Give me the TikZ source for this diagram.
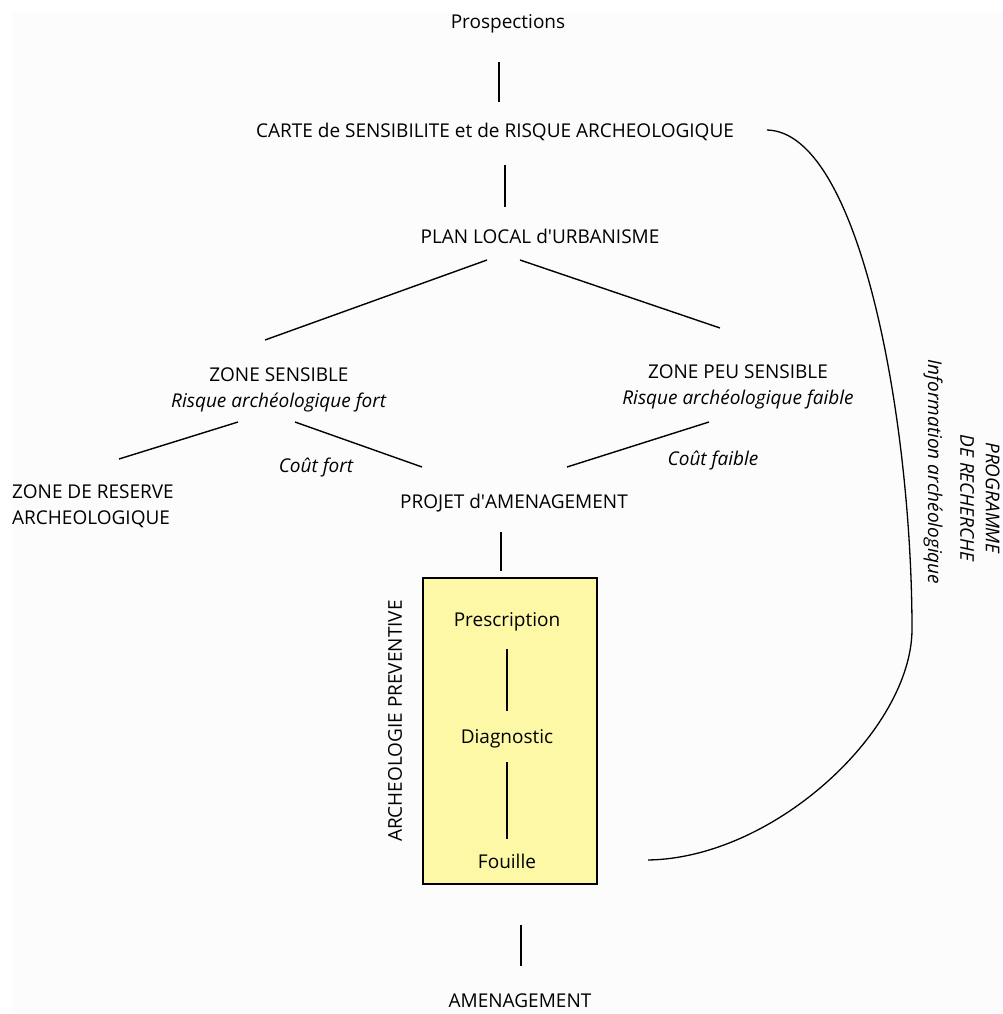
\documentclass[tikz,border=0pt]{standalone}
\usepackage{fontspec}
\setmainfont{Open Sans}
\definecolor{boxyellow}{HTML}{FDF8A6}
\definecolor{paper}{HTML}{FCFCFC}

\begin{document}
\begin{tikzpicture}[x=1pt,y=-1pt]
\tikzset{lbl/.style={font=\fontsize{19}{25.5}\selectfont,inner sep=0pt,align=center},
  note/.style={lbl,font=\fontsize{19}{25.5}\selectfont\itshape},
  link/.style={line width=1.4pt},
  stage/.style={line width=2.6pt}}
\useasboundingbox (0,0) rectangle (1003,1014);
\fill[paper] (12,12) rectangle (1003,1014);
% from survey to planning
\node[lbl] (pros) at (508,24) {Prospections};
\node[lbl] (carte) at (495,132) {CARTE de SENSIBILITE et de RISQUE ARCHEOLOGIQUE};
\node[lbl] (plan) at (540,236) {PLAN LOCAL d\textquotesingle URBANISME};
\node[lbl] (zs) at (279,390) {ZONE SENSIBLE\\\textit{Risque archéologique fort}};
\node[lbl] (zps) at (738,387) {ZONE PEU SENSIBLE\\\textit{Risque archéologique faible}};
\node[lbl,anchor=north west,align=left] (reserve) at (12,485) {ZONE DE RESERVE\\ARCHEOLOGIQUE};
\node[lbl] (projet) at (514,503) {PROJET d\textquotesingle AMENAGEMENT};
\node[note] (coutfort) at (316,468) {Coût fort};
\node[note] (coutfaible) at (713,461) {Coût faible};
% preventive archaeology
\node[draw,fill=boxyellow,line width=1.2pt,minimum width=174pt,minimum height=306pt,inner sep=0pt] (prev) at (510,731) {};
\node[lbl] (presc) at (507,622) {Prescription};
\node[lbl] (diag) at (507,739) {Diagnostic};
\node[lbl] (fouille) at (507,861) {Fouille};
\node[lbl,rotate=90] (archprev) at (395,721) {ARCHEOLOGIE PREVENTIVE};
\node[lbl] (amen) at (520,1001) {AMENAGEMENT};
\node[note,rotate=-90] (info) at (933,472) {Information archéologique};
\node[note,rotate=-90] (prog) at (980,498) {PROGRAMME\\DE RECHERCHE};

\draw[link] ([shift={(-9,38)}]pros.center) -- ([shift={(4,-30)}]carte.center);
\draw[link] ([shift={(10,33)}]carte.center) -- ([shift={(-35,-29)}]plan.center);
\draw[link] ([shift={(-53,24)}]plan.center) -- ([shift={(-14,-50)}]zs.center);
\draw[link] ([shift={(-20,24)}]plan.center) -- ([shift={(-18,-59)}]zps.center);
\draw[link] ([shift={(-41,32)}]zs.center) -- ([shift={(107,-26)}]reserve.north west);
\draw[link] ([shift={(16,32)}]zs.center) -- ([shift={(-92,-36)}]projet.center);
\draw[link] ([shift={(-29,35)}]zps.center) -- ([shift={(53,-36)}]projet.center);
\draw[stage] ([shift={(-13,29)}]projet.center) -- ([shift={(-9,-6)}]prev.north);
\draw[stage] ([shift={(0,27)}]presc.center) -- ([shift={(0,-28)}]diag.center);
\draw[stage] ([shift={(0,23)}]diag.center) -- ([shift={(0,-22)}]fouille.center);
\draw[link,line width=2pt] ([shift={(11,40)}]prev.south) -- ([shift={(1,-35)}]amen.center);
% research feedback loop
\draw[line width=1.3pt] ([shift={(272,-2)}]carte.center) .. controls (860,132) and (912,420) .. (912,630)
  .. controls (911,730) and (775,858) .. ([shift={(141,-1)}]fouille.center);
\end{tikzpicture}
\end{document}
